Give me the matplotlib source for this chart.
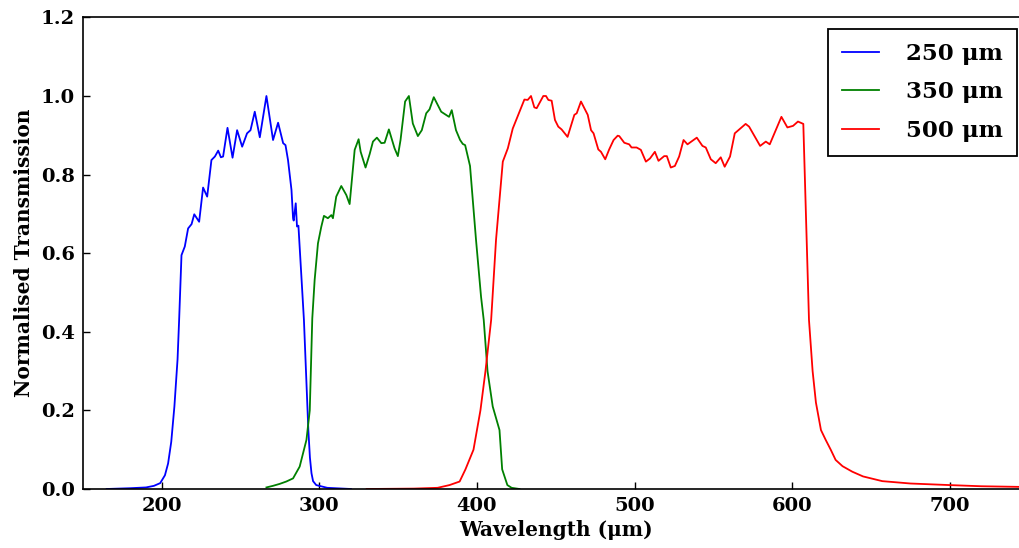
import matplotlib
matplotlib.use("Agg")
import matplotlib.pyplot as plt

plt.rcParams['font.family'] = ['DejaVu Serif']
plt.rcParams['font.weight'] = 'bold'

labels = ["250 μm", "350 μm", "500 μm"]
colors = ["blue", "green", "red"]

wl_250 = [165, 180, 190, 195, 199, 202, 204, 206, 208, 210, 211, 212.5, 214.6, 216.7, 218.9, 220.6,
          223.7, 226.2, 228.8, 231.5, 233.7, 235.8, 237.5, 238.9, 241.7, 244.9, 247.8, 251.0,
          254.1, 256.3, 259.0, 262.2, 266.4, 270.6, 273.8, 277.0, 278.5, 280.1, 282.3, 283.3,
          283.7, 285.0, 285.8, 286.7, 288.6, 290.2, 291, 292, 293, 294, 295, 296, 298, 305, 320]
tr_250 = [0.0, 0.002, 0.004, 0.008, 0.015, 0.035, 0.065, 0.12, 0.21, 0.33, 0.43, 0.595, 0.617,
          0.663, 0.674, 0.699, 0.680, 0.767, 0.744, 0.837, 0.846, 0.861, 0.844, 0.846, 0.919,
          0.843, 0.913, 0.871, 0.905, 0.913, 0.960, 0.895, 1.0, 0.888, 0.932, 0.880, 0.875,
          0.837, 0.761, 0.689, 0.683, 0.727, 0.668, 0.670, 0.540, 0.43, 0.35, 0.25, 0.15,
          0.08, 0.04, 0.02, 0.01, 0.003, 0.0]

wl_350 = [266.4, 270.5, 274.8, 279.0, 283.3, 287.5, 291.8, 293.9, 295.5, 297.0, 299.1, 301.2, 302.9, 305.4,
          307.6, 308.6, 310.7, 313.9, 317.1, 319.2, 322.4, 324.9, 326.2, 329.3, 331.9, 334.0,
          336.5, 339.3, 341.4, 344.1, 347.7, 349.8, 351.5, 354.4, 356.8, 359.3, 362.5, 365.0,
          367.8, 369.9, 372.6, 377.3, 381.5, 382.3, 384.0, 386.7, 389.3, 391.0, 392.5, 395.6,
          399.4, 402.6, 404.3, 406.7, 410.0, 414.3, 416.0, 419.3, 422.0, 427.0]
tr_350 = [0.004, 0.008, 0.013, 0.019, 0.027, 0.057, 0.125, 0.2, 0.434, 0.532, 0.625, 0.667, 0.695, 0.689,
          0.697, 0.689, 0.744, 0.771, 0.748, 0.725, 0.863, 0.890, 0.858, 0.818, 0.852, 0.884,
          0.894, 0.880, 0.881, 0.915, 0.867, 0.847, 0.888, 0.986, 1.0, 0.930, 0.898, 0.913,
          0.956, 0.966, 0.997, 0.960, 0.949, 0.947, 0.964, 0.913, 0.888, 0.878, 0.875, 0.822,
          0.634, 0.489, 0.43, 0.30, 0.21, 0.15, 0.05, 0.01, 0.003, 0.0]

wl_500 = [330, 360, 375, 382.6, 389.0, 392.7, 397.8, 402.2, 405.4, 409.0, 412.1, 416.4, 419.6,
          422.7, 427.0, 430.1, 432.2, 434.3, 436.4, 437.9, 442.1, 443.8, 445.3, 447.4, 449.5,
          451.6, 453.7, 457.5, 461.8, 463.3, 466.0, 470.3, 472.4, 474.0, 477.0, 478.7, 481.4,
          483.9, 486.7, 489.3, 490.3, 493.5, 496.6, 498.1, 501.3, 504.0, 507.2, 509.8, 512.9,
          515.2, 518.8, 520.5, 523.0, 525.6, 528.3, 531.1, 533.6, 539.5, 543.1, 545.2, 548.4,
          551.5, 554.7, 557.2, 560.6, 563.6, 570.5, 572.7, 579.7, 583.3, 585.8, 593.2, 597.0,
          600.6, 603.7, 607.1, 610.7, 613.0, 615.1, 618.3, 621.3, 624.5, 627.6, 632.0, 638.2,
          645.0, 657.2, 675.0, 699.7, 720.0, 750.0]
tr_500 = [0.0, 0.001, 0.003, 0.01, 0.019, 0.05, 0.1, 0.2, 0.3, 0.43, 0.634, 0.833, 0.867,
          0.917, 0.960, 0.991, 0.990, 1.0, 0.971, 0.969, 1.0, 1.0, 0.990, 0.988, 0.939,
          0.922, 0.915, 0.896, 0.952, 0.956, 0.986, 0.952, 0.913, 0.905, 0.864, 0.858, 0.839,
          0.864, 0.888, 0.899, 0.898, 0.881, 0.877, 0.869, 0.869, 0.863, 0.833, 0.841, 0.858,
          0.835, 0.847, 0.847, 0.818, 0.822, 0.846, 0.888, 0.877, 0.894, 0.873, 0.869, 0.839,
          0.829, 0.844, 0.820, 0.846, 0.905, 0.929, 0.922, 0.873, 0.884, 0.877, 0.947, 0.920,
          0.924, 0.935, 0.929, 0.43, 0.30, 0.22, 0.15, 0.125, 0.10, 0.074, 0.058, 0.044,
          0.032, 0.02, 0.014, 0.01, 0.007, 0.005]

xticks = [200, 300, 400, 500, 600, 700]
yticks = [0.0, 0.2, 0.4, 0.6, 0.8, 1.0, 1.2]

fig = plt.figure(figsize=(10.19, 5.48), dpi=100)
W, H = 1019.0, 548.0
left, right, bottom, top = 83 / W, 1028.5 / W, (H - 489) / H, (H - 17.4) / H
ax = fig.add_axes([left, bottom, right - left, top - bottom])

for wl, tr, lab, c in zip([wl_250, wl_350, wl_500], [tr_250, tr_350, tr_500], labels, colors):
    ax.plot(wl, tr, color=c, lw=1.3, label=lab)

ax.set_xlim(150, 750)
ax.set_ylim(0, 1.2)
ax.set_xticks(xticks)
ax.set_yticks(yticks)
ax.set_yticklabels([f"{v:.1f}" for v in yticks])
ax.tick_params(direction='in', length=5, width=1, labelsize=14, top=False, right=False, pad=6)
for lbl in ax.get_xticklabels() + ax.get_yticklabels():
    lbl.set_fontweight('bold')
for s in ax.spines.values():
    s.set_linewidth(1.2)
ax.set_xlabel("Wavelength (μm)", fontsize=14.5, fontweight='bold', labelpad=3)
ax.set_ylabel("Normalised Transmission", fontsize=14.5, fontweight='bold', labelpad=5)

leg = ax.legend(loc='upper right', bbox_to_anchor=(1017 / W, (H - 29) / H),
                bbox_transform=fig.transFigure, borderaxespad=0, fancybox=False,
                edgecolor='black', framealpha=1, prop={'size': 16.5, 'weight': 'bold'},
                handlelength=1.6, handletextpad=1.2, borderpad=0.6, labelspacing=0.72)
leg.get_frame().set_linewidth(1.3)

fig.savefig("out.png", dpi=100)
